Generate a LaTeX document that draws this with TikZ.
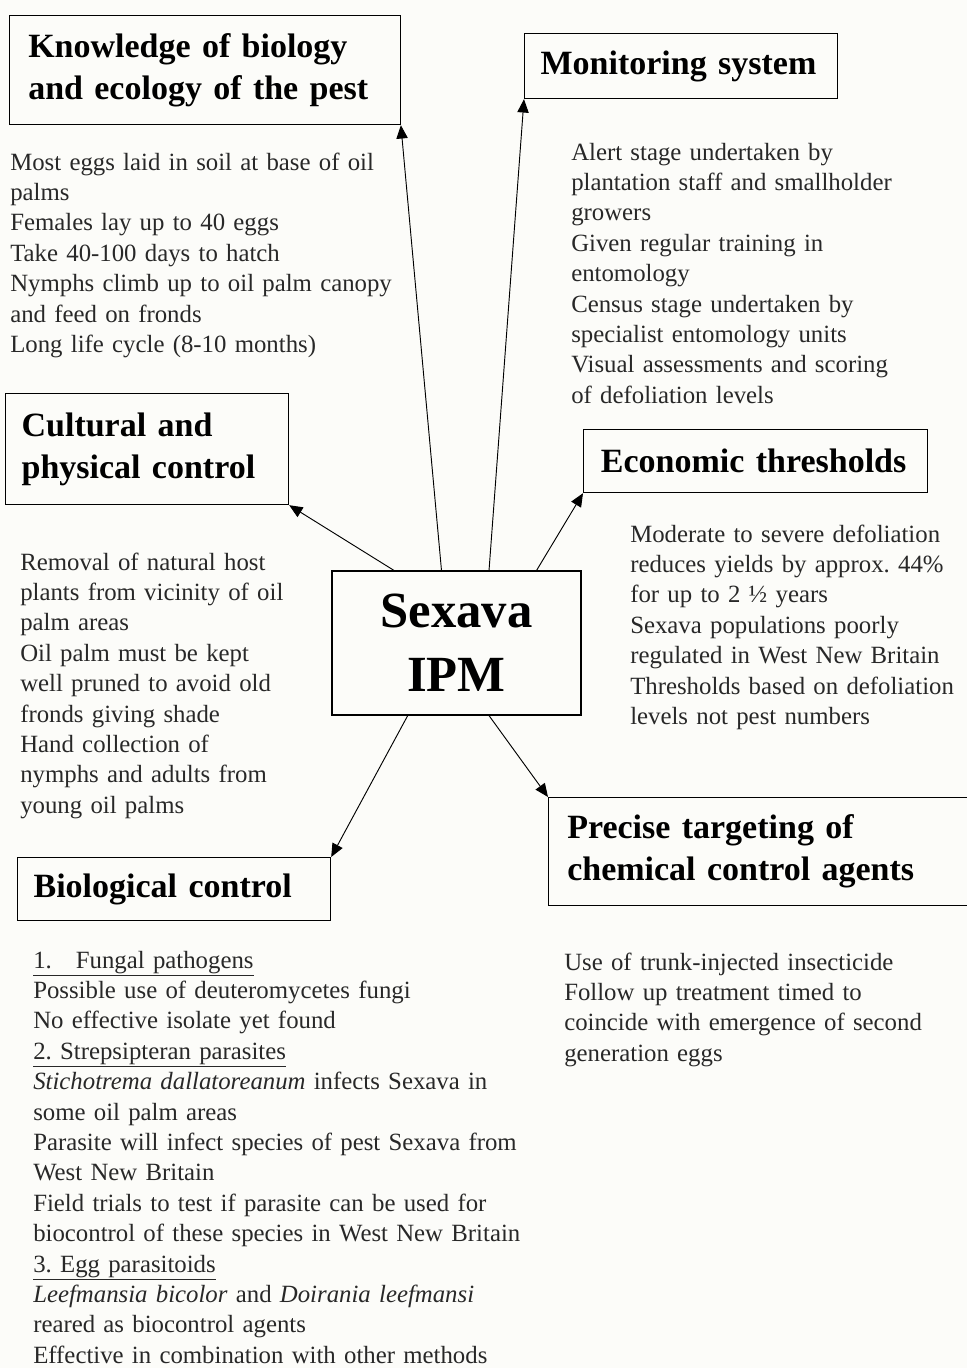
\documentclass[tikz,border=0pt]{standalone}
\usepackage{fontspec}
\setmainfont{Liberation Serif}
\usetikzlibrary{calc,arrows.meta}

\definecolor{paper}{RGB}{252,252,249}
\definecolor{ink}{RGB}{40,40,40}

\begin{document}
\frenchspacing
\begin{tikzpicture}[x=0.75pt,y=-0.75pt,
        head/.style={draw, line width=0.9pt, anchor=north west, align=left, inner ysep=0pt,
            font=\bfseries\fontsize{25.5}{31.5}\selectfont},
        body/.style={anchor=base west, align=left, inner sep=0pt, text width=#1, text=ink,
            font=\fontsize{18.6}{22.8}\selectfont},
        link/.style={line width=0.7pt, -{Triangle[length=10pt,width=8.5pt]}}]
        \useasboundingbox (0,0) rectangle (967,1368);
        \clip (0,0) rectangle (967,1368);
        \fill [paper] (0,0) rectangle (967,1368);

        \node [draw, line width=0.9pt, minimum width=186.75pt, minimum height=108pt, align=center,
            font=\bfseries\fontsize{38}{48}\selectfont] (ipm) at (456.5,643) {Sexava\\IPM};

        \node [head, inner xsep=14pt, text width=265pt, minimum height=81.75pt] (know) at (9,15)
            {Knowledge of biology\\and ecology of the pest};
        \node [head, inner xsep=12pt, text width=210.75pt, minimum height=48.75pt] (moni) at (524,33)
            {Monitoring system};
        \node [head, inner xsep=12pt, text width=188.25pt, minimum height=83.25pt] (cult) at (5,393)
            {Cultural and\\physical control};
        \node [head, inner xsep=13pt, text width=232pt, minimum height=47.25pt] (econ) at (583,429)
            {Economic thresholds};
        \node [head, inner xsep=14pt, text width=302pt, minimum height=81pt] (prec) at (548,797)
            {Precise targeting of\\chemical control agents};
        \node [head, inner xsep=12pt, text width=210.75pt, minimum height=47.25pt] (bio) at (17,857)
            {Biological control};

        \node [body=330pt] (knowtxt) at (10,170) {Most eggs laid in soil at base of oil\\palms\\
            Females lay up to 40 eggs\\Take 40-100 days to hatch\\
            Nymphs climb up to oil palm canopy\\and feed on fronds\\Long life cycle (8-10 months)};
        \node [body=300pt] (monitxt) at (571,160) {Alert stage undertaken by\\
            plantation staff and smallholder\\growers\\Given regular training in\\entomology\\
            Census stage undertaken by\\specialist entomology units\\
            Visual assessments and scoring\\of defoliation levels};
        \node [body=240pt] (culttxt) at (20,570) {Removal of natural host\\
            plants from vicinity of oil\\palm areas\\Oil palm must be kept\\
            well pruned to avoid old\\fronds giving shade\\Hand collection of\\
            nymphs and adults from\\young oil palms};
        \node [body=300pt] (econtxt) at (630,542) {Moderate to severe defoliation\\
            reduces yields by approx. 44\%\\for up to 2 ½ years\\Sexava populations poorly\\
            regulated in West New Britain\\Thresholds based on defoliation\\levels not pest numbers};
        \node [body=320pt] (prectxt) at (564,970) {Use of trunk-injected insecticide\\
            Follow up treatment timed to\\coincide with emergence of second\\generation eggs};
        \node [body=420pt] (biotxt) at (33,968) {\underline{1.\hspace{18pt}Fungal pathogens}\\
            Possible use of deuteromycetes fungi\\No effective isolate yet found\\
            \underline{2. Strepsipteran parasites}\\
            \textit{Stichotrema dallatoreanum} infects Sexava in\\some oil palm areas\\
            Parasite will infect species of pest Sexava from\\West New Britain\\
            Field trials to test if parasite can be used for\\
            biocontrol of these species in West New Britain\\
            \underline{3. Egg parasitoids}\\
            \textit{Leefmansia bicolor} and \textit{Doirania leefmansi}\\
            reared as biocontrol agents\\Effective in combination with other methods};

        \draw [link] ($(ipm.north west)!0.44!(ipm.north east)$) -- (know.south east);
        \draw [link] ($(ipm.north west)!0.63!(ipm.north east)$) -- (moni.south west);
        \draw [link] ($(ipm.north west)!0.25!(ipm.north east)$) -- (cult.south east);
        \draw [link] ($(ipm.north west)!0.82!(ipm.north east)$) -- (econ.south west);
        \draw [link] ($(ipm.south west)!0.305!(ipm.south east)$) -- (bio.north east);
        \draw [link] ($(ipm.south west)!0.63!(ipm.south east)$) -- (prec.north west);
    \end{tikzpicture}
\end{document}
